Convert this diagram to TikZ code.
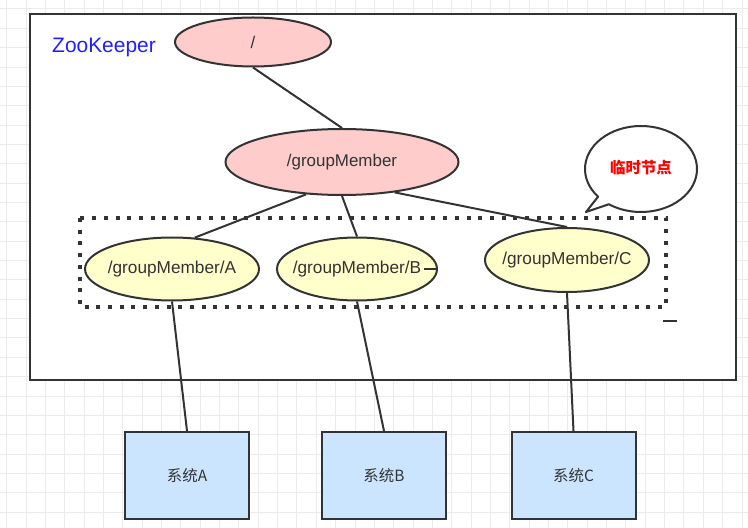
\documentclass[tikz,border=0pt]{standalone}
\usepackage{fontspec}
\setmainfont{Liberation Sans}
\newfontfamily\cjk{Noto Sans CJK SC}
\usetikzlibrary{shapes.geometric,calc}
\definecolor{ink}{HTML}{333333}
\definecolor{gridc}{HTML}{EBEBEB}
\definecolor{pinkf}{HTML}{FFCCCC}
\definecolor{yellf}{HTML}{FFFFCC}
\definecolor{bluef}{HTML}{CCE5FF}
\definecolor{zkblue}{HTML}{1F1FFF}
\definecolor{redt}{HTML}{FF0000}
\newcommand{\zw}[1]{\makebox[0pt][c]{#1}}
\tikzset{
  pinknode/.style={ellipse, draw=ink, line width=2bp, fill=pinkf, inner sep=0pt, text=ink, font=\fontsize{17}{20}\selectfont},
  yellnode/.style={ellipse, draw=ink, line width=2bp, fill=yellf, inner sep=0pt, text=ink, font=\fontsize{17.3}{20}\selectfont},
  sysbox/.style={rectangle, draw=ink, line width=2bp, fill=bluef, minimum width=124bp, minimum height=87bp, inner sep=0pt, text=ink, font=\cjk\fontsize{15.5}{18}\selectfont},
  link/.style={draw=ink, line width=2bp},
}
\begin{document}
\begin{tikzpicture}[x=1bp,y=-1bp]
\useasboundingbox (0,0) rectangle (748,528);
\fill[white] (0,0) rectangle (748,528);
% background grid
\foreach \i in {0,...,38} \draw[gridc, line width=1bp] ({6.7+19.35*\i},0) -- ({6.7+19.35*\i},528);
\foreach \j in {0,...,27} \draw[gridc, line width=1bp] (0,{9+19.35*\j}) -- (748,{9+19.35*\j});
% ZooKeeper frame
\draw[ink, line width=2.5bp, fill=white] (30,14) rectangle (736,380);
\node[text=zkblue, font=\fontsize{21}{24}\selectfont] (zk) at (104,47) {ZooKeeper};
% dotted group
\draw[ink, line width=4bp, dash pattern=on 4bp off 7.7bp] (80,218) rectangle (666,307);
% nodes
\node[pinknode, minimum width=156bp, minimum height=49bp] (root) at (253,42) {/};
\node[pinknode, minimum width=233bp, minimum height=66bp] (gm) at (342,162) {\zw{/groupMember}};
\node[yellnode, minimum width=174bp, minimum height=63bp] (na) at (172,269) {\zw{\raisebox{-2bp}{/groupMember/A}}};
\node[yellnode, minimum width=160bp, minimum height=63bp] (nb) at (357,269) {\zw{\raisebox{-2bp}{/groupMember/B}}};
\node[yellnode, minimum width=164bp, minimum height=64bp] (nc) at (567,260) {\zw{\raisebox{-1bp}{/groupMember/C}}};
\node[sysbox] (sa) at (187,475.5) {系统A};
\node[sysbox] (sb) at (384,475.5) {系统B};
\node[sysbox] (sc) at (573.5,475.5) {系统C};
% connectors
\draw[link] (root.south) -- (gm.north);
\draw[link] (gm.222) -- (na.54);
\draw[link] (gm.south) -- (nb.north);
\draw[link] (gm.-30) -- (nc.north);
\draw[link] (na.south) -- (sa.north);
\draw[link] (nb.south) -- (sb.north);
\draw[link] (nc.south) -- (sc.north);
% small marks
\coordinate (m1a) at (424,269);
\coordinate (m1b) at (438,269);
\draw[link] (m1a) -- (m1b);
\coordinate (m2a) at (663,321);
\coordinate (m2b) at (677,321);
\draw[link] (m2a) -- (m2b);
% callout bubble
\coordinate (tip) at (586,212);
\draw[ink, line width=2bp, fill=white, line join=round] (tip) -- ($(641,169)+(140:56 and 43)$) arc[start angle=140, end angle=485, x radius=56, y radius=43] -- cycle;
\node[text=redt, font=\cjk\bfseries\fontsize{15.5}{18}\selectfont] (bub) at (641,168) {临时节点};
\end{tikzpicture}
\end{document}
